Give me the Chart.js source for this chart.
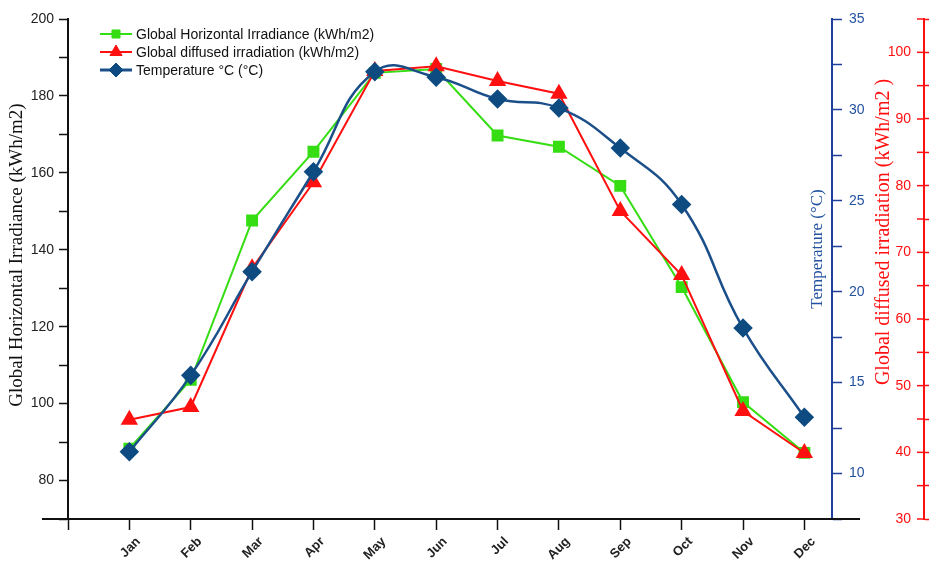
<!DOCTYPE html>
<html>
<head>
<meta charset="utf-8">
<title>Irradiance and temperature by month</title>
<script src="https://cdn.jsdelivr.net/npm/chart.js@4.4.1/dist/chart.umd.min.js"></script>
<style>
  html, body { margin: 0; padding: 0; background: #fff; }
  #wrap { width: 929px; height: 566px; }
</style>
</head>
<body>
<div id="wrap"><canvas id="chart"></canvas></div>
<script>
const months = ['Jan', 'Feb', 'Mar', 'Apr', 'May', 'Jun', 'Jul', 'Aug', 'Sep', 'Oct', 'Nov', 'Dec'];
const ghi = [88.3, 106.2, 147.6, 165.5, 186.0, 187.0, 169.7, 166.8, 156.6, 130.3, 100.4, 87.2];
const gdi = [44.9, 46.8, 67.6, 80.5, 97.2, 97.9, 95.7, 93.8, 76.2, 66.6, 46.2, 39.9];
const temp = [11.2, 15.4, 21.1, 26.6, 32.1, 31.8, 30.6, 30.1, 27.9, 24.8, 18.0, 13.1];
const seriesNames = [
    'Global Horizontal Irradiance (kWh/m2)',
    'Global diffused irradiation (kWh/m2)',
    'Temperature °C (°C)'
];
const axisTitles = [
    'Global Horizontal Irradiance (kWh/m2)',
    'Temperature (°C)',
    'Global diffused irradiation (kWh/m2 )'
];

const GREEN = '#35dd12';
const RED = '#ff1010';
const BLUE_LINE = '#1b4f8a';
const BLUE_MARK = '#0d4b80';
const BLUE_AXIS = '#1c3f9c';
const BLUE_TEXT = '#2352a0';
const SERIF = '"Liberation Serif", "Times New Roman", serif';

Chart.defaults.font.family = 'Arial, "Liberation Sans", sans-serif';

const toPoints = values => values.map((v, i) => ({ x: i + 1, y: v }));
const onStep = (v, step) => Math.abs(v / step - Math.round(v / step)) < 1e-6;

// small legend in the top left corner of the plot, line + marker + text
const legendRadius = [5.7, 7, 7];
const cornerLegend = {
    id: 'cornerLegend',
    afterDraw(chart) {
        const { ctx, chartArea } = chart;
        const x0 = chartArea.left + 32;
        const x1 = x0 + 32;
        ctx.save();
        ctx.font = '14px Arial, "Liberation Sans", sans-serif';
        ctx.textBaseline = 'middle';
        chart.data.datasets.forEach((ds, i) => {
            const y = chartArea.top + 15 + i * 18;
            ctx.strokeStyle = ds.borderColor;
            ctx.lineWidth = ds.borderWidth + (i === 2 ? 0.5 : 0);
            ctx.beginPath();
            ctx.moveTo(x0, y);
            ctx.lineTo(x1, y);
            ctx.stroke();
            ctx.fillStyle = ds.pointBackgroundColor;
            ctx.strokeStyle = ds.pointBorderColor;
            ctx.lineWidth = 1;
            Chart.helpers.drawPoint(ctx, {
                pointStyle: ds.pointStyle, radius: legendRadius[i], rotation: 0, borderWidth: 1
            }, (x0 + x1) / 2, y);
            ctx.fillStyle = '#111';
            ctx.fillText(ds.label, x1 + 4, y + 1);
        });
        ctx.restore();
    }
};

// axis titles, long x axis line and the inner half of the red ticks
const axisDecor = {
    id: 'axisDecor',
    afterDraw(chart) {
        const { ctx, chartArea, scales } = chart;
        ctx.save();

        ctx.strokeStyle = '#111';
        ctx.lineWidth = 2;
        ctx.beginPath();
        ctx.moveTo(chartArea.left - 26, chartArea.bottom);
        ctx.lineTo(chartArea.right + 28, chartArea.bottom);
        ctx.stroke();

        const r = scales.yGdi;
        ctx.strokeStyle = RED;
        ctx.lineWidth = 1.5;
        r.ticks.forEach(t => {
            const y = r.getPixelForValue(t.value);
            ctx.beginPath();
            ctx.moveTo(r.left - 7, y);
            ctx.lineTo(r.left, y);
            ctx.stroke();
        });

        const vText = (text, x, y, color, size) => {
            ctx.save();
            ctx.translate(x, y);
            ctx.rotate(-Math.PI / 2);
            ctx.font = size + 'px ' + SERIF;
            ctx.textAlign = 'center';
            ctx.textBaseline = 'middle';
            ctx.fillStyle = color;
            ctx.fillText(text, 0, 0);
            ctx.restore();
        };
        vText(axisTitles[0], scales.y.left + 17, chartArea.top + 236, '#111', 19);
        vText(axisTitles[1], chartArea.right - 14, chartArea.top + 230, BLUE_TEXT, 17);
        vText(axisTitles[2], r.left - 40, chartArea.top + 213, RED, 20);

        ctx.restore();
    }
};

new Chart(document.getElementById('chart'), {
    type: 'line',
    data: {
        datasets: [
            {
                label: seriesNames[0],
                data: toPoints(ghi),
                yAxisID: 'y',
                borderColor: GREEN,
                borderWidth: 2,
                pointStyle: 'rect',
                pointRadius: 7,
                pointBackgroundColor: GREEN,
                pointBorderColor: GREEN,
                tension: 0,
                order: 2
            },
            {
                label: seriesNames[1],
                data: toPoints(gdi),
                yAxisID: 'yGdi',
                borderColor: RED,
                borderWidth: 2,
                pointStyle: 'triangle',
                pointRadius: 8,
                pointBackgroundColor: RED,
                pointBorderColor: RED,
                tension: 0,
                order: 1
            },
            {
                label: seriesNames[2],
                data: toPoints(temp),
                yAxisID: 'yTemp',
                borderColor: BLUE_LINE,
                borderWidth: 2.5,
                pointStyle: 'rectRot',
                pointRadius: 8,
                pointBackgroundColor: BLUE_MARK,
                pointBorderColor: BLUE_MARK,
                tension: 0.45,
                order: 0
            }
        ]
    },
    options: {
        responsive: true,
        maintainAspectRatio: false,
        animation: false,
        layout: { padding: { top: 19, left: 0, right: 0, bottom: 0 } },
        plugins: {
            legend: { display: false },
            tooltip: { enabled: false }
        },
        scales: {
            x: {
                type: 'linear',
                min: 0,
                max: 12.45,
                afterBuildTicks: s => {
                    s.ticks = Array.from({ length: months.length + 1 }, (_, i) => ({ value: i }));
                },
                afterFit: s => { s.height = 47; },
                ticks: {
                    autoSkip: false,
                    minRotation: 45,
                    maxRotation: 45,
                    labelOffset: 9,
                    padding: 4,
                    color: '#222',
                    font: { size: 13, weight: 'bold' },
                    callback: v => months[v - 1] || ''
                },
                grid: { drawOnChartArea: false, tickLength: 11, tickWidth: 1.5, tickColor: '#111' },
                border: { display: false }
            },
            y: {
                position: 'left',
                min: 70,
                max: 200,
                afterFit: s => { s.width = 68; },
                ticks: {
                    stepSize: 10,
                    autoSkip: false,
                    padding: 5,
                    color: '#222',
                    font: { size: 14 },
                    callback: v => onStep(v, 20) ? v : ''
                },
                grid: { drawOnChartArea: false, tickLength: 9, tickWidth: 1.5, tickColor: '#111' },
                border: { color: '#111', width: 2 }
            },
            yTemp: {
                position: 'right',
                weight: 0,
                min: 7.5,
                max: 35,
                afterFit: s => { s.width = 92; },
                ticks: {
                    stepSize: 2.5,
                    autoSkip: false,
                    padding: 7,
                    color: BLUE_TEXT,
                    font: { size: 14 },
                    callback: v => onStep(v, 5) ? v : ''
                },
                grid: { drawOnChartArea: false, tickLength: 10, tickWidth: 1.5, tickColor: BLUE_AXIS },
                border: { color: BLUE_AXIS, width: 2 }
            },
            yGdi: {
                position: 'right',
                weight: 1,
                min: 30,
                max: 105,
                afterFit: s => { s.width = 5; },
                ticks: {
                    stepSize: 5,
                    autoSkip: false,
                    mirror: true,
                    padding: -13,
                    color: RED,
                    font: { size: 14 },
                    callback: v => onStep(v, 10) ? v : ''
                },
                grid: { drawOnChartArea: false, tickLength: 7, tickWidth: 1.5, tickColor: RED },
                border: { color: RED, width: 2 }
            }
        }
    },
    plugins: [cornerLegend, axisDecor]
});
</script>
</body>
</html>
